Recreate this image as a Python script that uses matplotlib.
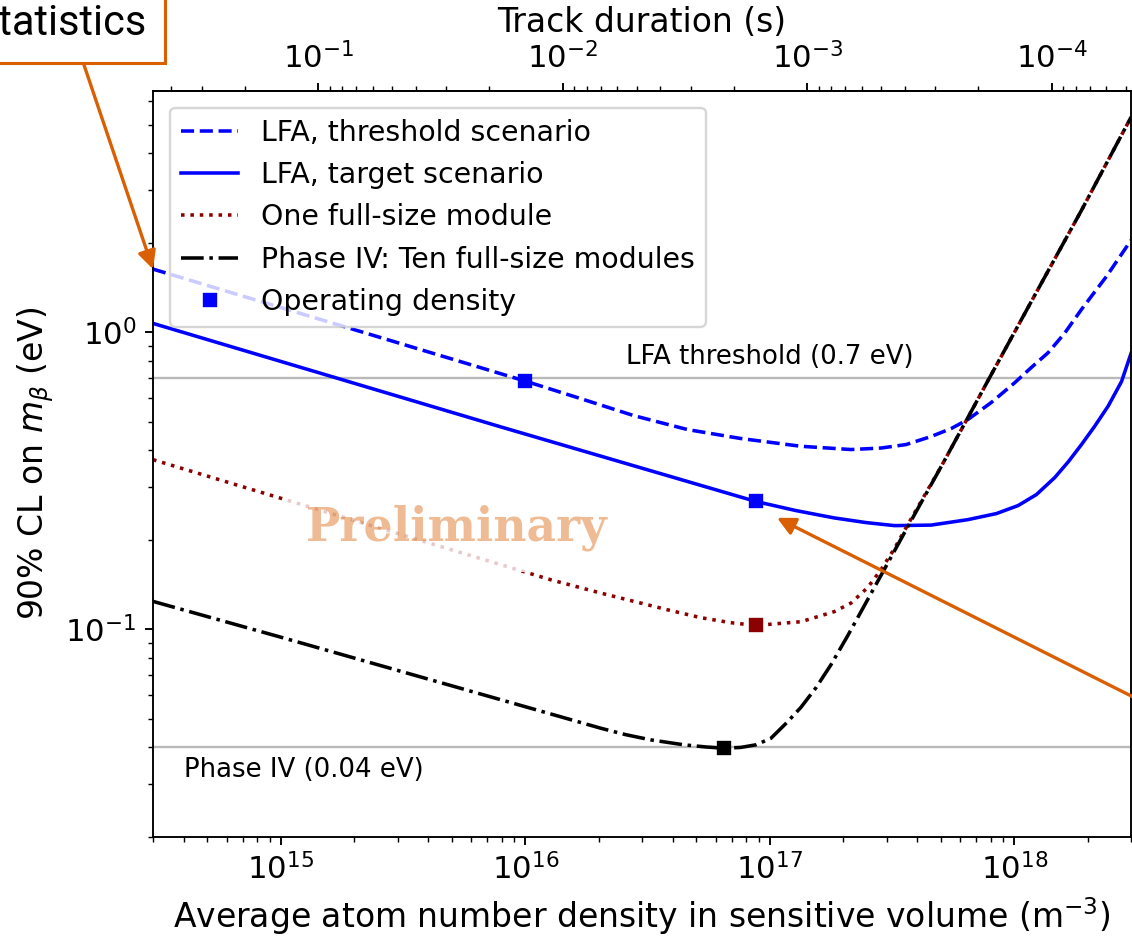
import numpy as np
import matplotlib
matplotlib.use("Agg")
import matplotlib.pyplot as plt

# Average atom number density (m^-3) and 90% CL limit on m_beta (eV)
density_threshold = [3.0e14, 1.0e16, 1.68e16, 2.771e16, 4.60e16, 7.605e16, 1.34e17, 2.148e17,
                     2.85e17, 3.609e17, 4.568e17, 5.519e17, 6.46e17, 8.05e17, 1.003e18,
                     1.174e18, 1.374e18, 1.603e18, 1.882e18, 2.382e18, 3.0e18]
mbeta_threshold = [1.63, 0.684, 0.5976, 0.5237, 0.4699, 0.4383, 0.4127, 0.4024,
                   0.4071, 0.4183, 0.4452, 0.4736, 0.5079, 0.5796, 0.6753,
                   0.7604, 0.8524, 0.990, 1.1925, 1.541, 2.038]

density_target = [3.0e14, 7.91e15, 8.77e16, 1.278e17, 1.834e17, 2.475e17, 3.232e17,
                  4.568e17, 6.46e17, 8.44e17, 1.036e18, 1.231e18, 1.463e18, 1.665e18,
                  1.882e18, 2.128e18, 2.421e18, 2.745e18, 3.0e18]
mbeta_target = [1.070, 0.480, 0.269, 0.2507, 0.2368, 0.2284, 0.2231,
                0.2240, 0.2337, 0.2449, 0.2606, 0.2838, 0.3238, 0.3666,
                0.4183, 0.4812, 0.5640, 0.6822, 0.8476]

density_module = [3.0e14, 1.267e16, 2.03e16, 3.81e16, 5.21e16, 6.92e16, 8.77e16, 1.34e17,
                  1.834e17, 2.148e17, 2.51e17, 2.85e17, 3.232e17, 3.667e17, 4.358e17,
                  5.02e17, 6.46e17, 8.05e17, 1.174e18, 1.882e18, 3.0e18]
mbeta_module = [0.372, 0.1467, 0.1323, 0.1162, 0.1093, 0.1051, 0.1029, 0.1059,
                0.1145, 0.1224, 0.1379, 0.1586, 0.1866, 0.2248, 0.2883,
                0.3527, 0.516, 0.720, 1.269, 2.572, 5.29]

density_phase4 = [3.0e14, 1.02e15, 1.391e16, 2.03e16, 2.569e16, 3.253e16, 4.46e16, 5.465e16,
                  6.5e16, 7.605e16, 8.764e16, 1.0095e17, 1.182e17, 1.34e17, 1.544e17,
                  1.778e17, 2.082e17, 2.36e17, 2.941e17, 3.667e17, 5.02e17, 6.46e17,
                  8.05e17, 1.174e18, 1.882e18, 3.0e18]
mbeta_phase4 = [0.1240, 0.0935, 0.05071, 0.0464, 0.04413, 0.04238, 0.04077, 0.04011,
                0.03971, 0.03996, 0.04077, 0.04287, 0.04874, 0.05453, 0.06347,
                0.07586, 0.09501, 0.1145, 0.1591, 0.2214, 0.3527, 0.516,
                0.720, 1.269, 2.572, 5.29]

# Operating points (density, limit)
op_threshold = (1.0e16, 0.684)
op_target = (8.77e16, 0.269)
op_module = (8.77e16, 0.1029)
op_phase4 = (6.5e16, 0.0397)

# Reference sensitivities
lfa_threshold_ev = 0.7
phase4_ev = 0.04

# Track duration (s) = DURATION_CONST / density
DURATION_CONST = 1.425e14

ORANGE = '#d95f02'
DPI = 170

fig = plt.figure(figsize=(1132 / DPI, 938 / DPI), dpi=DPI)
ax = fig.add_axes([153 / 1132, 1 - 836.7 / 938, (1131 - 153) / 1132, (836.7 - 90.7) / 938])
ax.set_xscale('log')
ax.set_yscale('log')

ax.axhline(lfa_threshold_ev, color='grey', alpha=0.55, lw=1.0, zorder=1)
ax.axhline(phase4_ev, color='grey', alpha=0.55, lw=1.0, zorder=1)

lw = 1.5
ax.plot(density_threshold, mbeta_threshold, '--', color='blue', lw=lw, label='LFA, threshold scenario')
ax.plot(density_target, mbeta_target, '-', color='blue', lw=lw, label='LFA, target scenario')
ax.plot(density_module, mbeta_module, ':', color='darkred', lw=lw, label='One full-size module')
ax.plot(density_phase4, mbeta_phase4, '-.', color='black', lw=lw, label='Phase IV: Ten full-size modules')

ms = 5.5
ax.plot([op_threshold[0]], [op_threshold[1]], 's', color='blue', ms=ms, label='Operating density', zorder=5)
ax.plot([op_target[0]], [op_target[1]], 's', color='blue', ms=ms, zorder=5)
ax.plot([op_module[0]], [op_module[1]], 's', color='darkred', ms=ms, zorder=5)
ax.plot([op_phase4[0]], [op_phase4[1]], 's', color='black', ms=ms, zorder=5)

ax.set_xlim(3e14, 3e18)
ax.set_ylim(0.02, 6.5)

ax.set_xlabel('Average atom number density in sensitive volume (m$^{-3}$)', fontsize=14)
ax.set_ylabel(r'90% CL on $m_\beta$ (eV)', fontsize=14)
ax.tick_params(axis='both', which='major', labelsize=13)


def to_duration(n):
    n = np.asarray(n, dtype=float)
    with np.errstate(divide='ignore', invalid='ignore'):
        return DURATION_CONST / n


secax = ax.secondary_xaxis('top', functions=(to_duration, to_duration))
secax.set_xlabel('Track duration (s)', fontsize=14)
secax.tick_params(axis='x', which='major', labelsize=13)

ax.text(1.0e17, 0.745, 'LFA threshold (0.7 eV)', ha='center', va='bottom', fontsize=11)
ax.text(4.0e14, 0.037, 'Phase IV (0.04 eV)', ha='left', va='top', fontsize=11)

ax.legend(loc='upper left', fontsize=12, borderaxespad=0.6)

ax.text(5.26e15, 0.22, 'Preliminary', fontsize=19.4, fontfamily='DejaVu Serif', fontweight='bold',
        color=(217 / 255, 95 / 255, 2 / 255, 0.42), ha='center', va='center', zorder=6,
        bbox=dict(facecolor='white', alpha=0.8, edgecolor='none', pad=9))

# callout pointing at the low-density end of the threshold curve
fig.text(146 / 1132, (938 - 35) / 938, 'statistics', ha='right', va='baseline',
         fontsize=17.6, fontfamily='Roboto',
         bbox=dict(boxstyle='square,pad=0.45', facecolor='white', edgecolor=ORANGE, lw=1.3))
ax.annotate('', xy=(3.0e14, 1.63), xycoords='data', xytext=(83, 938 - 62), textcoords='figure pixels',
            arrowprops=dict(arrowstyle='-|>', color=ORANGE, lw=1.4, mutation_scale=16, shrinkA=0, shrinkB=0),
            annotation_clip=False)
# callout pointing at the target-scenario operating point
ax.annotate('', xy=(1.07e17, 0.237), xycoords='data', xytext=(1300, 938 - 780.9), textcoords='figure pixels',
            arrowprops=dict(arrowstyle='-|>', color=ORANGE, lw=1.4, mutation_scale=16, shrinkA=0, shrinkB=0),
            annotation_clip=False)

fig.savefig('out.png', dpi=DPI)
